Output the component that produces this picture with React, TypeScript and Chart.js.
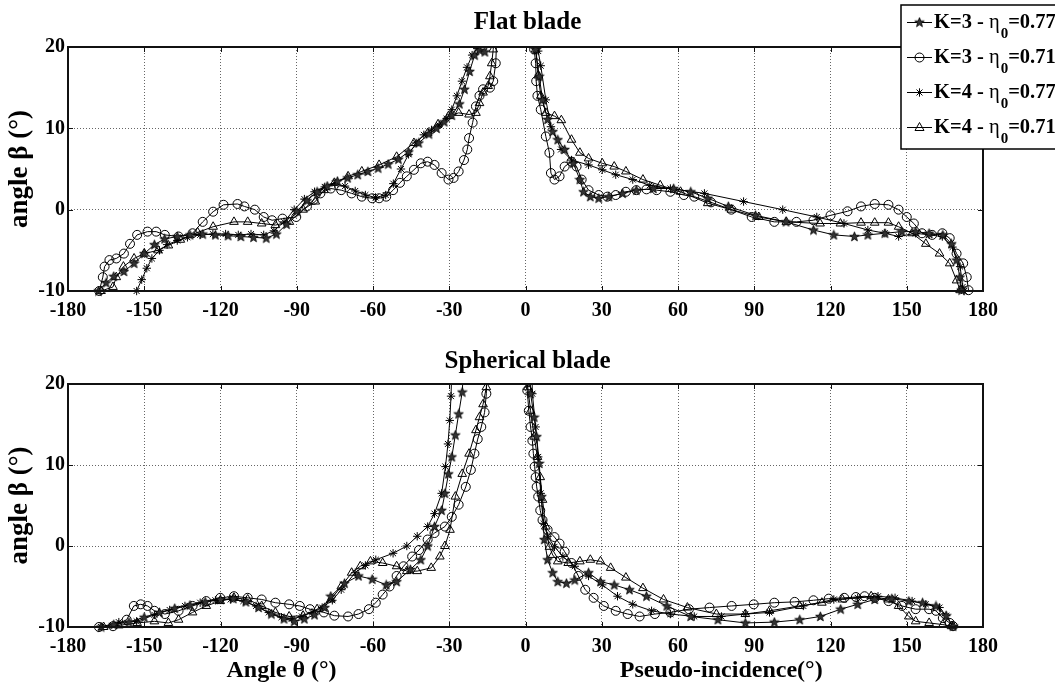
import React, { useEffect, useRef } from "react";
import { Chart, registerables } from "chart.js";

Chart.register(...registerables);

const FONT = "'Liberation Serif', 'Times New Roman', serif";

// ---------- text ----------
const panelTitles = ["Flat blade", "Spherical blade"];
const yAxisTitle = "angle β (°)";
const xAxisTitleLeft = "Angle θ (°)";
const xAxisTitleRight = "Pseudo-incidence(°)";
const seriesK = ["K=3", "K=3", "K=4", "K=4"];
const seriesEta = ["0.77", "0.71", "0.77", "0.71"];
const seriesMarker = ["pentagram", "circle", "asterisk", "triangle"];

// ---------- axes ----------
const xMin = -180;
const xMax = 180;
const xStep = 30;
const yMin = -10;
const yMax = 20;
const yStep = 10;

// ---------- data: [angle, beta] ----------
// Flat blade
const flatK3e77Left = [[-168,-10],[-165,-9],[-162,-8.2],[-158,-7.6],[-154,-6.6],[-150,-5.4],[-146,-4.3],[-142,-3.6],[-137,-3.3],[-132,-3.1],[-127,-3],[-122,-3.1],[-117,-3.2],[-112,-3.3],[-107,-3.4],[-102,-3.5],[-98,-3],[-94,-1.8],[-90,-0.2],[-86,1.1],[-82,2.2],[-78,2.9],[-74,3.5],[-70,3.9],[-66,4.3],[-62,4.7],[-58,5.1],[-54,5.6],[-50,6.2],[-46,7.1],[-42,8.2],[-38,9.3],[-35,10],[-32,10.8],[-29,11.6],[-26,13],[-24,14.8],[-22,17],[-20,19],[-18,19.6],[-16,19.4],[-14,20.5],[-13,24]];
const flatK3e77Right = [[3.5,24],[4,19.7],[5.4,16.4],[6.7,13.5],[8.7,11.1],[10.7,9.6],[12.7,8.6],[15.4,7.4],[18.8,5.7],[21.4,3.7],[22.8,2.2],[25.5,1.6],[28.8,1.4],[32.8,1.6],[38.2,2],[43.6,2.4],[50.3,2.6],[58.3,2.6],[65,2.2],[71.7,1.4],[79.8,0.4],[90.5,-0.7],[102.5,-1.5],[113.3,-2.5],[121.3,-3.1],[129.4,-3.3],[134.7,-3.1],[141.4,-2.9],[148.1,-2.7],[153.5,-2.7],[158.8,-2.9],[164.2,-3.1],[167.6,-4.2],[169.6,-6.2],[170.9,-8.3],[171.6,-9.9]];
const flatK3e71Left = [[-167.7,-10],[-166.3,-8.3],[-165.6,-7],[-163.7,-6.2],[-161,-6],[-158,-5.4],[-155.6,-4.2],[-152.8,-3.1],[-148.7,-2.7],[-145.3,-2.7],[-141.9,-3.1],[-136.5,-3.3],[-131,-2.9],[-127,-1.5],[-122.9,-0.25],[-118.8,0.6],[-113.3,0.7],[-110.6,0.4],[-106.5,0],[-103,-0.9],[-99.7,-1.3],[-95.6,-1.1],[-90.2,-0.9],[-86,0.4],[-83.4,1.2],[-80.7,2],[-76.6,2.6],[-72.5,2.4],[-68.4,2],[-64.4,1.6],[-60.3,1.4],[-57.6,1.4],[-54.8,1.6],[-52.1,2.4],[-49.4,3.3],[-46.7,4.1],[-43.9,4.9],[-41.2,5.7],[-38.5,5.9],[-35.8,5.5],[-33,4.5],[-30.3,3.7],[-28.3,3.9],[-26.3,4.7],[-24.2,6.1],[-22.9,7.4],[-22.2,8.8],[-20.8,10.7],[-19.5,12.7],[-18.1,14],[-16.7,14.8],[-14,15],[-12.7,15.8],[-11.7,18],[-11,24]];
const flatK3e71Right = [[3,24],[3.4,19.7],[4,18],[4.2,15.8],[4.7,14],[6,12.3],[8,9],[9.4,7],[10,4.5],[11.4,3.7],[13.4,4.1],[15.4,5.3],[18.1,5.9],[20.1,5.3],[22.1,3.7],[24.8,2.4],[28.8,1.8],[32.2,1.6],[35.5,1.8],[39.5,2.2],[43.6,2.4],[47.6,2.5],[51.6,2.4],[57,2.2],[62.3,1.8],[66.4,1.6],[73,0.9],[81,0],[89,-0.9],[97.9,-1.5],[106.6,-1.5],[113.3,-1.3],[120,-0.7],[126.7,-0.2],[132,0.4],[137.4,0.7],[142.8,0.6],[146.8,0],[150,-0.9],[152.8,-1.7],[156,-2.9],[160,-3.1],[164,-2.9],[166.9,-3.5],[169.6,-5.4],[172.2,-6.6],[173.6,-8.3],[174.3,-9.9]];
const flatK4e77Left = [[-153,-10],[-151,-8.6],[-149,-7.2],[-147,-6],[-144,-5],[-141,-4.3],[-137,-3.8],[-133,-3.4],[-128,-3.1],[-123,-3],[-118,-3],[-113,-3.1],[-108,-3],[-103,-3.1],[-99,-2.6],[-95,-1.5],[-91,0],[-87,1.3],[-83,2.2],[-79,2.8],[-75,3.2],[-71,2.9],[-67,2.3],[-63,1.8],[-59,1.5],[-55,1.8],[-52,3.2],[-49,5],[-46,6.8],[-43,8.2],[-40,9.2],[-37,9.8],[-34,10.4],[-31,11.2],[-29,12.3],[-27,14],[-25,15.8],[-23,17.5],[-21,19],[-19,19.8],[-17,20.6],[-15,23]];
const flatK4e77Right = [[4,24],[5,19.5],[6,17.7],[8,13.5],[10,10.2],[14,7.4],[18.1,6.1],[24.8,5.5],[30.2,4.9],[35.5,4.3],[42.2,3.7],[48.9,3],[57,2.6],[70.4,2],[85.8,1],[101.2,0],[114.6,-0.9],[125.3,-1.7],[134.7,-2.5],[141.4,-2.9],[146.8,-3.3],[153.5,-2.9],[158.8,-3.1],[164,-3.3],[168,-4.6],[171,-7],[172,-9.5],[172.5,-10]];
const flatK4e71Left = [[-167,-10],[-162.3,-9.5],[-161,-8.3],[-158.2,-7],[-154,-6],[-150,-5.4],[-144.6,-5],[-140.5,-4.4],[-135.8,-3.7],[-129,-2.8],[-122.9,-2.1],[-114.7,-1.5],[-109.3,-1.5],[-103.8,-1.7],[-98.4,-1.9],[-92.9,-1.5],[-87.5,0],[-82.7,1],[-79.3,2.4],[-75.2,3.3],[-69.8,4.1],[-64.4,4.7],[-57.6,5.5],[-50.7,6.5],[-43.9,8.2],[-38.5,9.4],[-34.4,10.5],[-30.3,11.5],[-26.3,11.9],[-22.2,11.7],[-19.5,11.9],[-18.1,13.1],[-16.7,14.4],[-14.7,15.2],[-14,16.4],[-13.3,18],[-12.7,19.7],[-12,24]];
const flatK4e71Right = [[3.8,24],[4,19.7],[5,16.5],[6,14],[8,11.9],[11.4,11.5],[14.1,11],[18.1,8.6],[21.4,7],[24.8,6.3],[30.2,5.7],[34.9,5.3],[39.5,4.7],[46.2,3.7],[53,3],[61,2.2],[71.7,0.8],[81,0],[91.8,-0.9],[102.6,-1.5],[115.9,-1.7],[123.9,-1.7],[132,-1.6],[137.4,-1.6],[142.8,-1.6],[146.8,-2.1],[152.1,-2.9],[157.5,-4.2],[162.9,-5.4],[166.9,-6.6],[169.6,-8.7],[171,-9.9]];

// Spherical blade
const sphK3e77Left = [[-167,-10],[-162,-9.7],[-156,-9.4],[-150,-8.8],[-144,-8.2],[-138,-7.7],[-132,-7.3],[-126,-6.9],[-120,-6.6],[-115,-6.5],[-110,-6.9],[-105,-7.6],[-100,-8.4],[-95,-9],[-91,-9.3],[-87,-9],[-83,-8.5],[-79,-7.6],[-76.6,-6.2],[-71.2,-4.6],[-65.7,-3.7],[-60.3,-4.1],[-54.8,-4.8],[-50.7,-4.4],[-45.3,-2.9],[-41.2,-1.7],[-38.5,0],[-35.8,2.4],[-33,4.4],[-31.7,6.5],[-30.3,8.9],[-29,11],[-27.6,13.7],[-26.3,16.3],[-24.9,19],[-24,24]];
const sphK3e77Right = [[1.7,24],[2,18.8],[3.4,15.9],[4.4,13.5],[5.4,10.2],[6.3,6.1],[7.4,0.8],[8.7,-1.7],[10.7,-3.3],[12.7,-4.4],[16.1,-4.6],[19.4,-4.2],[24.8,-3.3],[29.5,-4.4],[34.9,-4.8],[40.9,-5.4],[47.6,-6.2],[55.6,-7.4],[65,-8.7],[75.7,-9.1],[86.5,-9.5],[97.9,-9.4],[107.9,-9.1],[116,-8.7],[124,-7.8],[130.7,-7.2],[137.4,-6.6],[144.1,-6.5],[150.8,-6.8],[156.2,-7],[161.5,-7.4],[165.5,-8.6],[168.2,-9.9]];
const sphK3e71Left = [[-167.8,-10],[-162.3,-9.9],[-156.9,-9.1],[-154.1,-7.4],[-151.4,-7.2],[-148.7,-7.4],[-146,-8],[-141.9,-8.4],[-136.5,-8],[-131,-7.4],[-125.6,-6.8],[-120.1,-6.4],[-114.7,-6.2],[-109.3,-6.4],[-103.8,-6.6],[-98.4,-7],[-93,-7.2],[-88.8,-7.4],[-84.8,-7.8],[-79.3,-8.2],[-75.2,-8.6],[-69.8,-8.7],[-65.7,-8.4],[-61.6,-7.8],[-58.9,-7],[-56.2,-6],[-53.5,-5],[-50.7,-3.7],[-48,-2.5],[-44.6,-1.3],[-41.9,-0.5],[-38.5,0.8],[-35.8,1.6],[-31.7,2.4],[-29,3.6],[-26.3,5.1],[-23.5,7.3],[-21.5,9.4],[-20.1,11.4],[-18.8,13.2],[-17.4,14.7],[-16.1,16.5],[-15.4,18.8],[-15,24]];
const sphK3e71Right = [[0.5,24],[0.7,19.2],[1.3,16.7],[2,14.7],[2.7,13],[3.1,11.4],[3.6,9.8],[4,8.5],[4.4,7.3],[5,6.1],[5.8,4.4],[6.7,3.2],[8.7,2],[11.4,1.1],[13.4,0.3],[15.4,-0.7],[18.1,-2.1],[20.8,-3.7],[23.5,-5.4],[26.8,-6.4],[30.8,-7.4],[35.5,-8],[40.2,-8.4],[44.9,-8.7],[50.9,-8.4],[57,-8.2],[64.3,-7.8],[72.4,-7.6],[81.1,-7.4],[89.8,-7.2],[97.9,-7],[105.9,-6.9],[113.3,-6.7],[119.3,-6.5],[125.4,-6.4],[130,-6.3],[133.4,-6.2],[137.4,-6.4],[142.8,-6.8],[148.1,-7.4],[153.5,-7.8],[158.8,-7.8],[161.5,-8],[164.2,-8.9],[166.9,-9.5],[168.2,-9.9]];
const sphK4e77Left = [[-167,-10],[-160,-9.4],[-153,-9.3],[-146,-8.5],[-140,-7.9],[-134,-7.4],[-128,-7],[-122,-6.7],[-116,-6.6],[-111,-6.8],[-106,-7.4],[-101,-8.2],[-96,-8.8],[-92,-9],[-88,-8.7],[-84,-8.2],[-80,-7.6],[-76,-6.7],[-72.5,-5.4],[-67,-3.3],[-63,-2.4],[-58.9,-1.7],[-52.1,-0.9],[-46.7,0],[-42.6,1.2],[-38.5,2.4],[-35.8,4],[-33,6.5],[-31.5,9.8],[-30.5,12.6],[-29.8,15.5],[-29.3,18.5],[-28.8,24]];
const sphK4e77Right = [[2.4,24],[2.7,18.8],[4,14.7],[5,11],[6,6.5],[7.1,2.8],[8.7,1.2],[11.4,-0.1],[14.7,-1.3],[19.4,-2.5],[24.8,-3.7],[30.2,-4.8],[36.2,-6.2],[42.2,-7.2],[49.6,-8],[57,-8.4],[66.4,-8.7],[77.1,-8.7],[86.5,-8.4],[96,-8.2],[109.3,-7.4],[121.3,-6.6],[130.7,-6.4],[138.7,-6.2],[145.4,-6.4],[152.1,-6.8],[157.5,-7.2],[162.9,-7.6],[165.5,-8.6],[168,-9.8]];
const sphK4e71Left = [[-166,-10],[-160,-9.8],[-152.8,-9.5],[-146,-9.3],[-140.5,-9.5],[-136.5,-9.1],[-131,-8.2],[-125.6,-7.4],[-120.1,-6.8],[-114.7,-6.4],[-109.3,-6.6],[-103.8,-7.4],[-98.4,-8.2],[-93,-8.7],[-87.5,-8.6],[-82,-7.8],[-76.6,-6.6],[-72.5,-5],[-68.4,-3.3],[-65,-2.5],[-61,-1.9],[-56.2,-2.1],[-50.7,-2.5],[-46.7,-3.1],[-42.6,-3.1],[-37.1,-2.7],[-33.7,-1.3],[-31.7,0],[-29.7,2],[-27.6,6.1],[-24.9,8.9],[-22.2,11.4],[-19.5,14.3],[-18.1,15.9],[-16.7,17.5],[-15.4,19.6],[-15,24]];
const sphK4e71Right = [[0.7,24],[0.9,19.6],[2,16.7],[3.4,13.5],[4.7,11],[5.8,8.5],[6.7,5.7],[8,2.4],[9.4,-0.1],[10.7,-1.1],[12.7,-1.9],[16.8,-2.1],[21.4,-1.9],[25.5,-1.7],[29.5,-1.9],[33.5,-2.7],[39.5,-3.9],[46.2,-5.2],[54.3,-6.6],[63.7,-7.6],[75.1,-8.4],[86.5,-8.4],[96,-8],[107.9,-7.4],[116.6,-7],[124.7,-6.6],[136,-6.2],[142.8,-6.6],[146.8,-7.4],[150.8,-8.7],[153.5,-9.3],[158.8,-9.5],[164.2,-9.7],[167.6,-9.9]];

const flatBranches = [
  [flatK3e77Left, flatK3e77Right],
  [flatK3e71Left, flatK3e71Right],
  [flatK4e77Left, flatK4e77Right],
  [flatK4e71Left, flatK4e71Right],
];
const sphBranches = [
  [sphK3e77Left, sphK3e77Right],
  [sphK3e71Left, sphK3e71Right],
  [sphK4e77Left, sphK4e77Right],
  [sphK4e71Left, sphK4e71Right],
];

// ---------- helpers ----------
function makePentagram(): HTMLCanvasElement {
  const c = document.createElement("canvas");
  c.width = 11;
  c.height = 11;
  const g = c.getContext("2d")!;
  g.beginPath();
  for (let i = 0; i < 10; i++) {
    const r = i % 2 === 0 ? 5 : 2.1;
    const a = -Math.PI / 2 + (i * Math.PI) / 5;
    const px = 5.5 + r * Math.cos(a);
    const py = 5.8 + r * Math.sin(a);
    if (i === 0) g.moveTo(px, py);
    else g.lineTo(px, py);
  }
  g.closePath();
  g.fillStyle = "#333";
  g.fill();
  g.strokeStyle = "#000";
  g.lineWidth = 0.8;
  g.stroke();
  return c;
}

function pointStyleFor(kind: string, star: HTMLCanvasElement): any {
  if (kind === "pentagram") return star;
  if (kind === "circle") return "circle";
  if (kind === "asterisk") return "star";
  return "triangle";
}
function radiusFor(kind: string): number {
  if (kind === "circle") return 4.5;
  if (kind === "triangle") return 5;
  if (kind === "asterisk") return 4.2;
  return 5;
}

function buildDatasets(branches: number[][][][], star: HTMLCanvasElement) {
  return branches.map((pair, i) => {
    const [left, right] = pair;
    const data = [
      ...left.map(([x, y]) => ({ x, y })),
      { x: 0, y: null as any },
      ...right.map(([x, y]) => ({ x, y })),
    ];
    const kind = seriesMarker[i];
    return {
      label: `${seriesK[i]} - η0=${seriesEta[i]}`,
      data,
      borderColor: "#000",
      borderWidth: 1,
      backgroundColor: "rgba(0,0,0,0)",
      pointStyle: pointStyleFor(kind, star),
      pointRadius: radiusFor(kind),
      pointBorderColor: "#000",
      pointBackgroundColor: "rgba(0,0,0,0)",
      pointBorderWidth: 1,
      tension: 0,
      spanGaps: false,
      clip: { left: 6, right: 6, top: 0, bottom: 6 },
    };
  });
}

const boxPlugin = {
  id: "axesBox",
  afterDatasetsDraw(chart: any) {
    const { ctx, chartArea } = chart;
    const { left, right, top, bottom } = chartArea;
    const xs = chart.scales.x;
    const ys = chart.scales.y;
    ctx.save();
    ctx.strokeStyle = "#111";
    ctx.lineWidth = 1;
    ctx.beginPath();
    for (let v = xMin; v <= xMax; v += xStep) {
      const px = Math.round(xs.getPixelForValue(v)) + 0.5;
      ctx.moveTo(px, top);
      ctx.lineTo(px, top + 5);
      ctx.moveTo(px, bottom);
      ctx.lineTo(px, bottom - 5);
    }
    for (let v = yMin; v <= yMax; v += yStep) {
      const py = Math.round(ys.getPixelForValue(v)) + 0.5;
      ctx.moveTo(left, py);
      ctx.lineTo(left + 5, py);
      ctx.moveTo(right, py);
      ctx.lineTo(right - 5, py);
    }
    ctx.stroke();
    ctx.lineWidth = 2;
    ctx.strokeRect(left, top, right - left, bottom - top);
    ctx.restore();
  },
};

function makeLegendPlugin(star: HTMLCanvasElement) {
  return {
    id: "matlabLegend",
    afterDraw(chart: any) {
      const ctx = chart.ctx;
      ctx.save();
      const bx = 901;
      const by = 5;
      const bw = 200;
      const bh = 144;
      ctx.fillStyle = "#fff";
      ctx.fillRect(bx, by, bw, bh);
      ctx.strokeStyle = "#000";
      ctx.lineWidth = 1.5;
      ctx.strokeRect(bx, by, bw, bh);
      const rowCenters = [21, 56, 91, 126];
      for (let i = 0; i < 4; i++) {
        const cy = rowCenters[i];
        const ly = cy + 1.5;
        ctx.strokeStyle = "#000";
        ctx.lineWidth = 1;
        ctx.beginPath();
        ctx.moveTo(907, ly);
        ctx.lineTo(932, ly);
        ctx.stroke();
        const mx = 919.5;
        const kind = seriesMarker[i];
        ctx.beginPath();
        if (kind === "pentagram") {
          ctx.drawImage(star, mx - 5.5, ly - 5.8);
        } else if (kind === "circle") {
          ctx.arc(mx, ly, 4.5, 0, Math.PI * 2);
          ctx.stroke();
        } else if (kind === "asterisk") {
          for (let k = 0; k < 4; k++) {
            const a = (k * Math.PI) / 4;
            ctx.moveTo(mx - 4.2 * Math.cos(a), ly - 4.2 * Math.sin(a));
            ctx.lineTo(mx + 4.2 * Math.cos(a), ly + 4.2 * Math.sin(a));
          }
          ctx.stroke();
        } else {
          ctx.moveTo(mx, ly - 5);
          ctx.lineTo(mx + 4.5, ly + 3);
          ctx.lineTo(mx - 4.5, ly + 3);
          ctx.closePath();
          ctx.stroke();
        }
        const base = cy + 7;
        ctx.fillStyle = "#000";
        ctx.textBaseline = "alphabetic";
        ctx.textAlign = "left";
        let tx = 934;
        ctx.font = `bold 20.5px ${FONT}`;
        const p1 = `${seriesK[i]} - `;
        ctx.fillText(p1, tx, base);
        tx += ctx.measureText(p1).width;
        ctx.font = `20.5px ${FONT}`;
        ctx.fillText("η", tx, base);
        tx += ctx.measureText("η").width + 1;
        ctx.font = `bold 15px ${FONT}`;
        ctx.fillText("0", tx, base + 10);
        tx += ctx.measureText("0").width;
        ctx.font = `bold 20.5px ${FONT}`;
        ctx.fillText(`=${seriesEta[i]}`, tx, base);
      }
      ctx.restore();
    },
  };
}

const bottomTitlesPlugin = {
  id: "bottomTitles",
  afterDraw(chart: any) {
    const ctx = chart.ctx;
    const xs = chart.scales.x;
    ctx.save();
    ctx.fillStyle = "#000";
    ctx.font = `bold 24px ${FONT}`;
    ctx.textAlign = "center";
    ctx.textBaseline = "middle";
    ctx.fillText(xAxisTitleLeft, xs.getPixelForValue(-96), 341);
    ctx.fillText(xAxisTitleRight, xs.getPixelForValue(77), 341);
    ctx.restore();
  },
};

function makeConfig(
  title: string,
  datasets: any[],
  titlePad: { top: number; bottom: number },
  xHeight: number,
  plugins: any[]
): any {
  const tickFont = { family: FONT, size: 20, weight: "bold" as const };
  return {
    type: "line",
    data: { datasets },
    options: {
      animation: false,
      responsive: false,
      devicePixelRatio: 1,
      events: [],
      layout: { padding: 0 },
      plugins: {
        legend: { display: false },
        tooltip: { enabled: false },
        title: {
          display: true,
          text: title,
          color: "#000",
          font: { family: FONT, size: 25, weight: "bold" },
          padding: titlePad,
        },
      },
      scales: {
        x: {
          type: "linear",
          min: xMin,
          max: xMax,
          ticks: {
            stepSize: xStep,
            color: "#000",
            font: tickFont,
            padding: 8,
            maxRotation: 0,
            autoSkip: false,
          },
          grid: { color: "rgba(0,0,0,0.6)", lineWidth: 1, drawTicks: false },
          border: { display: false, dash: [1, 2] },
          afterFit: (s: any) => {
            s.height = xHeight;
          },
        },
        y: {
          type: "linear",
          min: yMin,
          max: yMax,
          ticks: {
            stepSize: yStep,
            color: "#000",
            font: tickFont,
            padding: 3,
          },
          grid: { color: "rgba(0,0,0,0.6)", lineWidth: 1, drawTicks: false },
          border: { display: false, dash: [1, 2] },
          title: {
            display: true,
            text: yAxisTitle,
            color: "#000",
            font: { family: FONT, size: 27, weight: "bold" },
            padding: { top: 4, bottom: 0 },
          },
          afterFit: (s: any) => {
            s.width = 68;
          },
        },
        yRightSpace: {
          type: "linear",
          position: "right",
          min: yMin,
          max: yMax,
          display: true,
          ticks: { display: false },
          grid: { display: false, drawTicks: false },
          border: { display: false },
          afterFit: (s: any) => {
            s.width = 72;
          },
        },
      },
    },
    plugins,
  };
}

export default function App() {
  const topRef = useRef<HTMLCanvasElement>(null);
  const botRef = useRef<HTMLCanvasElement>(null);

  useEffect(() => {
    const star = makePentagram();
    const top = new Chart(
      topRef.current!,
      makeConfig(
        panelTitles[0],
        buildDatasets(flatBranches, star),
        { top: 8, bottom: 9 },
        39,
        [boxPlugin, makeLegendPlugin(star)]
      )
    );
    const bottom = new Chart(
      botRef.current!,
      makeConfig(
        panelTitles[1],
        buildDatasets(sphBranches, star),
        { top: 17, bottom: 7 },
        59,
        [boxPlugin, bottomTitlesPlugin]
      )
    );
    return () => {
      top.destroy();
      bottom.destroy();
    };
  }, []);

  return (
    <div
      style={{
        position: "absolute",
        left: 0,
        top: 0,
        width: 1055,
        height: 686,
        background: "#fff",
        overflow: "hidden",
      }}
    >
      <canvas
        ref={topRef}
        width={1055}
        height={330}
        style={{ position: "absolute", left: 0, top: 0 }}
      />
      <canvas
        ref={botRef}
        width={1055}
        height={356}
        style={{ position: "absolute", left: 0, top: 330 }}
      />
    </div>
  );
}
